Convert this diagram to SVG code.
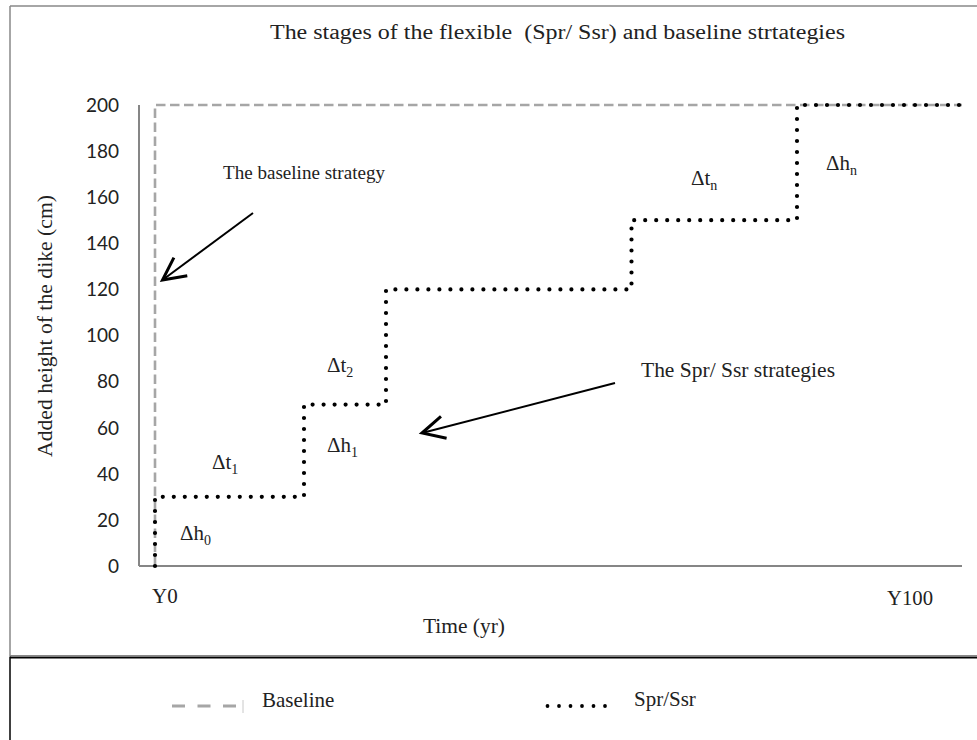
<svg xmlns="http://www.w3.org/2000/svg" width="977" height="740" viewBox="0 0 977 740">
  <defs>
    <style>
      .serif { font-family: "Liberation Serif", "Times New Roman", serif; fill: #222; }
      .tick { font-family: Lato, "Open Sans", sans-serif; font-size: 19px; fill: #222; text-anchor: end; }
      .axis { stroke: #868686; stroke-width: 2; fill: none; }
      .baseline { stroke: #a6a6a6; stroke-width: 2.6; fill: none; stroke-dasharray: 9.5 4.5; }
      .flex { stroke: #000; stroke-width: 4.2; fill: none; stroke-linecap: round; stroke-dasharray: 0 11; }
      .arrow { stroke: #000; stroke-width: 2; fill: none; marker-end: url(#openHead); }
      .dot { fill: #000; }
    </style>
    <marker id="openHead" markerUnits="userSpaceOnUse" markerWidth="30" markerHeight="30" refX="0" refY="0" viewBox="-16 -10 20 20" orient="auto">
      <path d="M -15 -7.5 L 0 0 L -15 7.5" fill="none" stroke="#000" stroke-width="2"/>
    </marker>
  </defs>

  <rect width="977" height="740" fill="#fff"/>

  <!-- chart frame -->
  <g id="frame">
    <line x1="10" y1="6" x2="977" y2="6" stroke="#888" stroke-width="1.5"/>
    <line x1="10" y1="6" x2="10" y2="657" stroke="#888" stroke-width="1.5"/>
    <line x1="10" y1="655.5" x2="977" y2="655.5" stroke="#888" stroke-width="1"/>
    <line x1="10" y1="657.5" x2="977" y2="657.5" stroke="#000" stroke-width="2"/>
    <line x1="10" y1="657" x2="10" y2="740" stroke="#000" stroke-width="1.5"/>
  </g>

  <g id="title">
    <text class="serif" x="270" y="39" font-size="20.5" textLength="575" lengthAdjust="spacingAndGlyphs" xml:space="preserve">The stages of the flexible  (Spr/ Ssr) and baseline strtategies</text>
  </g>

  <!-- axes -->
  <g id="axes">
    <line class="axis" x1="139" y1="105" x2="139" y2="566"/>
    <line class="axis" x1="139" y1="566" x2="962" y2="566"/>
  </g>

  <g id="y-ticks">
    <text class="tick" x="119" y="111.8">200</text>
    <text class="tick" x="119" y="157.9">180</text>
    <text class="tick" x="119" y="204">160</text>
    <text class="tick" x="119" y="250.1">140</text>
    <text class="tick" x="119" y="296.2">120</text>
    <text class="tick" x="119" y="342.3">100</text>
    <text class="tick" x="119" y="388.4">80</text>
    <text class="tick" x="119" y="434.5">60</text>
    <text class="tick" x="119" y="480.6">40</text>
    <text class="tick" x="119" y="526.7">20</text>
    <text class="tick" x="119" y="572.8">0</text>
  </g>

  <g id="y-title">
    <text class="serif" font-size="21.5" transform="translate(52 457) rotate(-90)" textLength="262" lengthAdjust="spacingAndGlyphs">Added height of the dike (cm)</text>
  </g>

  <g id="x-labels">
    <text class="serif" x="152" y="603" font-size="21">Y0</text>
    <text class="serif" x="887" y="605" font-size="21" textLength="46" lengthAdjust="spacingAndGlyphs">Y100</text>
    <text class="serif" x="423" y="633" font-size="21" textLength="82" lengthAdjust="spacingAndGlyphs">Time (yr)</text>
  </g>

  <!-- series -->
  <g id="series-baseline">
    <path class="baseline" d="M155 566 V105 H962"/>
  </g>
  <g id="series-flexible">
    <path class="flex" d="M155 566 V496.8 H304 V404.6 H386 V289.4 H631.5 V220.2 H797 V105 H960"/>
  </g>

  <!-- step annotations -->
  <g id="step-labels" class="serif" font-size="21">
    <text x="180" y="540">Δh<tspan font-size="14" dy="5">0</tspan></text>
    <text x="212" y="469">Δt<tspan font-size="14" dy="5">1</tspan></text>
    <text x="327" y="452">Δh<tspan font-size="14" dy="5">1</tspan></text>
    <text x="327" y="372">Δt<tspan font-size="14" dy="5">2</tspan></text>
    <text x="691" y="185">Δt<tspan font-size="14" dy="5">n</tspan></text>
    <text x="826" y="170">Δh<tspan font-size="14" dy="5">n</tspan></text>
  </g>

  <g id="label-baseline">
    <text class="serif" x="223" y="179" font-size="19.5" textLength="162" lengthAdjust="spacingAndGlyphs">The baseline strategy</text>
  </g>
  <g id="label-flexible">
    <text class="serif" x="641" y="377" font-size="21" textLength="194" lengthAdjust="spacingAndGlyphs">The Spr/ Ssr strategies</text>
  </g>

  <!-- pointer arrows -->
  <g id="connectors">
    <line class="arrow" x1="253" y1="213" x2="162.5" y2="280"/>
    <line class="arrow" x1="615" y1="383" x2="422" y2="433"/>
  </g>

  <!-- legend -->
  <g id="legend">
    <g id="legend-baseline">
      <line x1="172" y1="706" x2="236" y2="706" stroke="#a6a6a6" stroke-width="3" stroke-dasharray="13 12.5"/>
      <line x1="243" y1="700" x2="243" y2="713" stroke="#c8c8c8" stroke-width="1"/>
      <text class="serif" x="262" y="707" font-size="21">Baseline</text>
    </g>
    <g id="legend-flexible">
      <circle class="dot" cx="547.5" cy="706" r="1.9"/>
      <circle class="dot" cx="559" cy="706" r="1.9"/>
      <circle class="dot" cx="570.5" cy="706" r="1.9"/>
      <circle class="dot" cx="582" cy="706" r="1.9"/>
      <circle class="dot" cx="593.5" cy="706" r="1.9"/>
      <circle class="dot" cx="605" cy="706" r="1.9"/>
      <text class="serif" x="634" y="706" font-size="21">Spr/Ssr</text>
    </g>
  </g>
</svg>
